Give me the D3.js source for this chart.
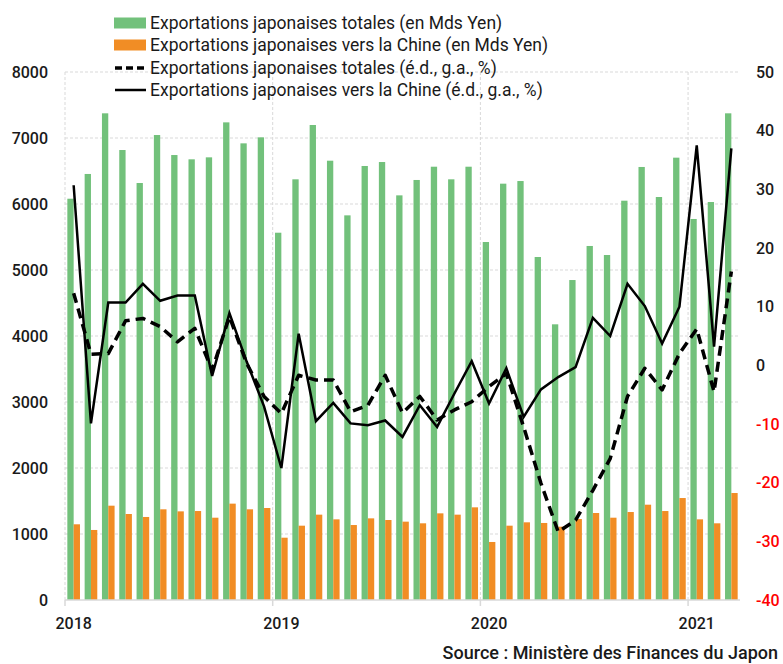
<!DOCTYPE html>
<meta charset="utf-8">
<head>
<title>Exportations japonaises</title>
<style>
  body { margin: 0; background: #fff; }
  svg text { font-family: "Liberation Sans Narrow", "Roboto", "DejaVu Sans", sans-serif; fill: #1a1a1a; }
  .grid line { stroke: #d9d9d9; stroke-dasharray: 3,2; }
  .legend text { font-size: 17.5px; }
  .tick text { font-size: 16px; }
</style>
</head>
<body>
<svg width="783" height="664"></svg>
<script src="https://cdn.jsdelivr.net/npm/d3@7"></script>
<script>
// months Jan 2018 -> Mar 2021
var months = d3.range(39);
var years = ["2018", "2019", "2020", "2021"];

// exports, Mds Yen
var totalExports = [6080, 6455, 7374, 6818, 6318, 7045, 6742, 6677, 6707, 7237, 6919, 7010,
                    5565, 6374, 7197, 6656, 5828, 6576, 6636, 6131, 6364, 6565, 6374, 6565,
                    5424, 6308, 6348, 5197, 4177, 4848, 5364, 5227, 6050, 6561, 6106, 6702,
                    5773, 6030, 7374];
var chinaExports = [1147, 1061, 1429, 1303, 1258, 1374, 1343, 1348, 1247, 1460, 1374, 1394,
                    944, 1126, 1293, 1222, 1136, 1237, 1212, 1187, 1162, 1313, 1293, 1404,
                    879, 1126, 1177, 1167, 1111, 1227, 1318, 1247, 1333, 1444, 1348, 1545,
                    1222, 1162, 1621];

// year-on-year growth, %
var totalYoY = [12.3, 1.9, 2.0, 7.6, 8.0, 6.6, 4.0, 6.3, -0.8, 8.3, 0.3, -5.3,
                -8.2, -1.7, -2.5, -2.5, -7.9, -6.8, -1.7, -8.1, -5.3, -9.3, -7.6, -6.2,
                -3.6, -1.4, -10.5, -20.1, -28.4, -26.4, -21.3, -15.9, -5.3, -0.5, -4.2, 2.0,
                6.2, -4.5, 16.0];
var chinaYoY = [30.7, -9.9, 10.7, 10.7, 13.9, 11.0, 11.9, 11.9, -1.8, 8.9, 0.6, -7.0,
                -17.5, 5.4, -9.5, -6.4, -9.9, -10.2, -9.4, -12.2, -6.8, -10.5, -4.8, 0.7,
                -6.5, -0.5, -8.8, -4.1, -2.0, -0.3, 8.1, 5.0, 13.9, 10.1, 3.7, 10.0,
                37.5, 3.2, 37.0];

var leftTicks = d3.range(0, 8001, 1000);
var rightTicks = d3.range(-40, 51, 10);

var legendLabels = [
  "Exportations japonaises totales (en Mds Yen)",
  "Exportations japonaises vers la Chine (en Mds Yen)",
  "Exportations japonaises totales (é.d., g.a., %)",
  "Exportations japonaises vers la Chine (é.d., g.a., %)"
];

var green = "#72c17b", orange = "#f18d25";

var svg = d3.select("svg"),
    margin = {top: 72, right: 43, bottom: 64, left: 65},
    width = +svg.attr("width") - margin.left - margin.right,
    height = +svg.attr("height") - margin.top - margin.bottom,
    g = svg.append("g").attr("transform", "translate(" + margin.left + "," + margin.top + ")");

var x = d3.scaleBand().domain(months).range([0, width]).paddingInner(0.27).paddingOuter(0.135);
var xm = d3.scaleLinear().domain([0, months.length]).range([0, width]);
var y = d3.scaleLinear().domain([0, 8000]).range([height, 0]);
var y2 = d3.scaleLinear().domain([-40, 50]).range([height, 0]);

// grid
g.append("g").attr("class", "grid")
  .selectAll("line").data(leftTicks.slice(1)).enter().append("line")
  .attr("x1", 0).attr("x2", width)
  .attr("y1", function(d) { return y(d); }).attr("y2", function(d) { return y(d); });
g.append("g").attr("class", "grid")
  .selectAll("line").data([0, 12, 24, 36]).enter().append("line")
  .attr("x1", function(d) { return xm(d); }).attr("x2", function(d) { return xm(d); })
  .attr("y1", 0).attr("y2", height);

// bars
var bw = x.bandwidth() / 2;
g.append("g").selectAll("rect").data(months).enter().append("rect")
  .attr("x", function(i) { return x(i); })
  .attr("y", function(i) { return y(totalExports[i]); })
  .attr("width", bw)
  .attr("height", function(i) { return height - y(totalExports[i]); })
  .attr("fill", green);
g.append("g").selectAll("rect").data(months).enter().append("rect")
  .attr("x", function(i) { return x(i) + bw; })
  .attr("y", function(i) { return y(chinaExports[i]); })
  .attr("width", bw)
  .attr("height", function(i) { return height - y(chinaExports[i]); })
  .attr("fill", orange);

// x axis
g.append("line").attr("x1", 0).attr("x2", width).attr("y1", height).attr("y2", height)
  .attr("stroke", "#d9d9d9").attr("stroke-width", 1.5);
g.append("g").selectAll("line").data([0, 12, 24, 36]).enter().append("line")
  .attr("x1", function(d) { return xm(d); }).attr("x2", function(d) { return xm(d); })
  .attr("y1", height).attr("y2", height + 6).attr("stroke", "#d9d9d9").attr("stroke-width", 1.5);
g.append("g").attr("class", "tick").selectAll("text").data(years).enter().append("text")
  .attr("x", function(d, k) { return x(k * 12) + x.bandwidth() / 2; })
  .attr("y", height + 29)
  .attr("text-anchor", "middle")
  .style("font-family", "Roboto, sans-serif").style("font-weight", 500)
  .text(function(d) { return d; });

// lines
var line = function(vals) {
  return d3.line()
    .x(function(i) { return x(i) + x.bandwidth() / 2; })
    .y(function(i) { return y2(vals[i]); })(months);
};
g.append("path").attr("d", line(totalYoY))
  .attr("fill", "none").attr("stroke", "#000").attr("stroke-width", 3.5)
  .attr("stroke-dasharray", "10,6").attr("stroke-linejoin", "round");
g.append("path").attr("d", line(chinaYoY))
  .attr("fill", "none").attr("stroke", "#000").attr("stroke-width", 2.5)
  .attr("stroke-linejoin", "miter");

// left axis labels
g.append("g").attr("class", "tick").selectAll("text").data(leftTicks).enter().append("text")
  .attr("x", -17).attr("y", function(d) { return y(d); }).attr("dy", "0.35em")
  .attr("text-anchor", "end")
  .style("font-family", "Roboto, sans-serif").style("font-weight", 500)
  .text(function(d) { return d; });

// right axis labels
g.append("g").attr("class", "tick").selectAll("text").data(rightTicks).enter().append("text")
  .attr("x", width + 16).attr("y", function(d) { return y2(d); }).attr("dy", "0.35em")
  .attr("text-anchor", "start")
  .style("font-family", "Roboto, sans-serif").style("font-weight", 500)
  .style("fill", function(d) { return d < 0 ? "#ff0000" : "#1a1a1a"; })
  .text(function(d) { return d; });

// legend
var lg = svg.append("g").attr("class", "legend");
var rowY = [23, 45, 68, 90];
legendLabels.forEach(function(lab, k) {
  var r = lg.append("g").attr("transform", "translate(114," + rowY[k] + ")");
  if (k < 2) {
    r.append("rect").attr("x", 0).attr("y", -5.5).attr("width", 32).attr("height", 11)
      .attr("fill", k === 0 ? green : orange);
  } else {
    r.append("line").attr("x1", 1).attr("x2", 32).attr("y1", 0).attr("y2", 0)
      .attr("stroke", "#000").attr("stroke-width", k === 2 ? 3.5 : 2.5)
      .attr("stroke-dasharray", k === 2 ? "7,4" : null);
  }
  r.append("text").attr("x", 36).attr("y", 0).attr("dy", "0.35em").text(lab);
});

// source
svg.append("text").attr("x", 778).attr("y", 659).attr("text-anchor", "end")
  .style("font-size", "18px").style("font-weight", 500)
  .text("Source : Ministère des Finances du Japon");
</script>
</body>
</html>
